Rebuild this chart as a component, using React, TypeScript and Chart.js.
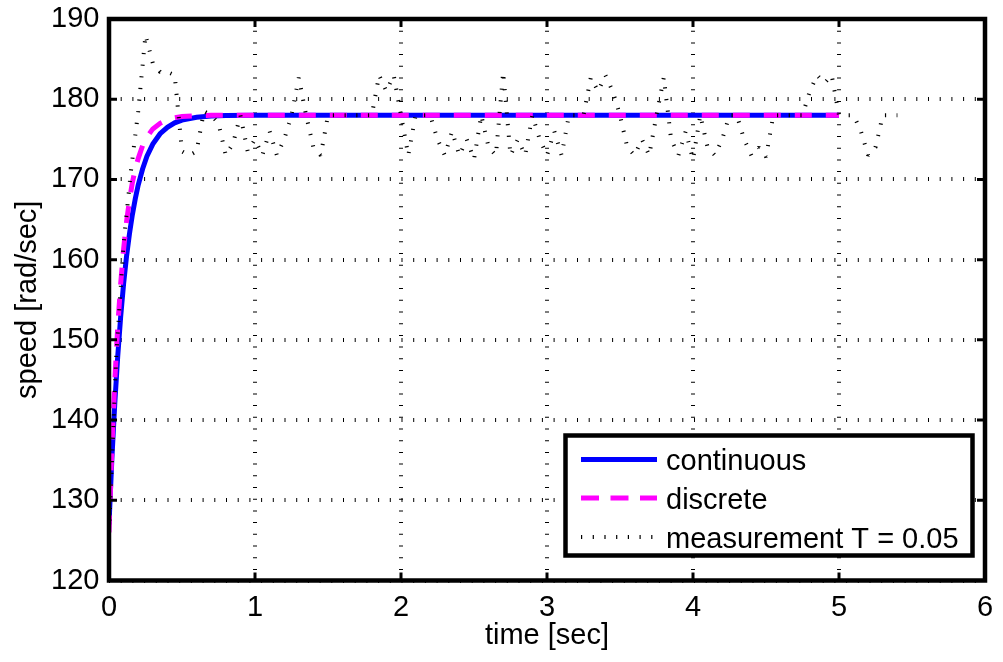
import { useEffect, useRef } from "react";
import { Chart, registerables } from "chart.js";

Chart.register(...registerables);

// Axis ticks
const timeTicks = [0, 1, 2, 3, 4, 5, 6];
const speedTicks = [120, 130, 140, 150, 160, 170, 180, 190];

// Continuous-time step response [sec], [rad/sec]
const continuousTime = [0, 0.02, 0.04, 0.06, 0.08, 0.1, 0.12, 0.14, 0.16, 0.18, 0.2, 0.23, 0.26, 0.3, 0.35, 0.4, 0.45, 0.5, 0.6, 0.7, 0.8, 1.0, 2.0, 3.0, 4.0, 5.0];
const continuousSpeed = [127, 135.3, 142.2, 148, 152.9, 157, 160.4, 163.2, 165.6, 167.6, 169.3, 171.3, 172.9, 174.4, 175.7, 176.5, 177.05, 177.4, 177.75, 177.9, 177.96, 178, 178, 178, 178, 178];

// Discrete-controller response
const discreteTime = [0, 0.02, 0.04, 0.06, 0.08, 0.1, 0.12, 0.14, 0.16, 0.18, 0.2, 0.23, 0.26, 0.3, 0.35, 0.4, 0.45, 0.5, 0.6, 0.7, 0.8, 1.0, 2.0, 3.0, 4.0, 5.0];
const discreteSpeed = [126, 136.6, 145, 151.7, 157, 161.3, 164.7, 167.4, 169.6, 171.3, 172.6, 174.2, 175.3, 176.3, 177, 177.45, 177.7, 177.85, 177.95, 178, 178, 178, 178, 178, 178, 178];

// Noisy speed measurement, sample period T = 0.05
const measurementTime = [
  0, 0.05, 0.1, 0.15, 0.2, 0.25, 0.3, 0.35, 0.4, 0.45,
  0.5, 0.55, 0.6, 0.65, 0.7, 0.75, 0.8, 0.85, 0.9, 0.95,
  1.0, 1.05, 1.1, 1.15, 1.2, 1.25, 1.3, 1.35, 1.4, 1.45,
  1.5, 1.55, 1.6, 1.65, 1.7, 1.75, 1.8, 1.85, 1.9, 1.95,
  2.0, 2.05, 2.1, 2.15, 2.2, 2.25, 2.3, 2.35, 2.4, 2.45,
  2.5, 2.55, 2.6, 2.65, 2.7, 2.75, 2.8, 2.85, 2.9, 2.95,
  3.0, 3.05, 3.1, 3.15, 3.2, 3.25, 3.3, 3.35, 3.4, 3.45,
  3.5, 3.55, 3.6, 3.65, 3.7, 3.75, 3.8, 3.85, 3.9, 3.95,
  4.0, 4.05, 4.1, 4.15, 4.2, 4.25, 4.3, 4.35, 4.4, 4.45,
  4.5, 4.55, 4.6, 4.65, 4.7, 4.75, 4.8, 4.85, 4.9, 4.95,
  5.0, 5.05, 5.1, 5.15, 5.2, 5.25, 5.3, 5.35, 5.4,
];
const measurementSpeed = [
  126, 148, 162, 171, 178.5, 188, 184.5, 183.4, 183.4, 183,
  173.5, 173, 173.5, 178.5, 178, 177, 173, 174.5, 178, 173.5,
  175, 173, 176, 173, 175, 178, 182.7, 178, 174, 173,
  178, 178, 178, 178, 178, 178, 178, 183, 181, 183,
  178, 173, 178, 178, 178, 175, 173, 176, 173, 175,
  172.5, 178, 174, 173, 183.4, 173, 175, 173, 178, 175,
  173, 176, 173, 178, 178, 178, 182.7, 181, 183, 181,
  178, 174, 173, 175, 173, 178, 182.7, 175, 173, 176,
  172.5, 178, 174, 173, 175, 178, 178, 175, 173, 174,
  172.8, 178, 178, 178, 178, 178, 181, 183, 182, 183,
  178, 178, 178, 176, 173, 174, 178, 178, 178,
];

const seriesLabels = ["continuous", "discrete", "measurement T = 0.05"];

const FONT = "'Liberation Sans', Arial, Helvetica, sans-serif";
const FONT_SIZE = 29;

const toPoints = (xs: number[], ys: number[]) => xs.map((x, i) => ({ x, y: ys[i] }));

// Thick box around the axes, inward tick marks on all four sides, and a boxed legend
const framePlugin = {
  id: "frameAndLegend",
  afterDraw(chart: any) {
    const { ctx, chartArea, scales } = chart;
    const { left, right, top, bottom } = chartArea;
    ctx.save();
    ctx.strokeStyle = "#000";
    ctx.lineCap = "butt";

    // inward ticks
    ctx.lineWidth = 3;
    const tickLen = 8;
    ctx.beginPath();
    timeTicks.forEach((t) => {
      const px = scales.x.getPixelForValue(t);
      ctx.moveTo(px, bottom);
      ctx.lineTo(px, bottom - tickLen);
      ctx.moveTo(px, top);
      ctx.lineTo(px, top + tickLen);
    });
    speedTicks.forEach((v) => {
      const py = scales.y.getPixelForValue(v);
      ctx.moveTo(left, py);
      ctx.lineTo(left + tickLen, py);
      ctx.moveTo(right, py);
      ctx.lineTo(right - tickLen, py);
    });
    ctx.stroke();

    // axes box
    ctx.lineWidth = 4.5;
    ctx.lineJoin = "miter";
    ctx.strokeRect(left, top, right - left, bottom - top);

    // legend
    const boxW = 407;
    const boxH = 120;
    const boxX = right - 419.5;
    const boxY = bottom - 145;
    ctx.fillStyle = "#fff";
    ctx.fillRect(boxX, boxY, boxW, boxH);
    ctx.lineWidth = 4.5;
    ctx.strokeRect(boxX, boxY, boxW, boxH);

    const rowY = [boxY + 24, boxY + 62.5, boxY + 101.5];
    chart.data.datasets.forEach((ds: any, i: number) => {
      const y = rowY[i];
      ctx.save();
      ctx.strokeStyle = ds.borderColor;
      ctx.lineWidth = ds.borderWidth;
      ctx.setLineDash(i === 1 ? [18, 11.5] : ds.borderDash || []);
      ctx.lineDashOffset = 0;
      ctx.beginPath();
      ctx.moveTo(boxX + 15.5, y);
      ctx.lineTo(boxX + 91.5, y);
      ctx.stroke();
      ctx.restore();
      ctx.fillStyle = "#000";
      ctx.font = `${FONT_SIZE}px ${FONT}`;
      ctx.textAlign = "left";
      ctx.textBaseline = "alphabetic";
      ctx.fillText(ds.label, boxX + 100.5, y + 10.5);
    });
    ctx.restore();
  },
};

export default function App() {
  const canvasRef = useRef<HTMLCanvasElement>(null);

  useEffect(() => {
    document.body.style.margin = "0";
    const canvas = canvasRef.current;
    if (!canvas) return;

    const chart = new Chart(canvas, {
      type: "line",
      data: {
        datasets: [
          {
            label: seriesLabels[0],
            data: toPoints(continuousTime, continuousSpeed),
            borderColor: "#0000ff",
            borderWidth: 5,
            pointRadius: 0,
            tension: 0,
            order: 3,
          },
          {
            label: seriesLabels[1],
            data: toPoints(discreteTime, discreteSpeed),
            borderColor: "#ff00ff",
            borderWidth: 5,
            borderDash: [17, 14],
            borderCapStyle: "butt",
            pointRadius: 0,
            tension: 0,
            order: 2,
          },
          {
            label: seriesLabels[2],
            data: toPoints(measurementTime, measurementSpeed),
            borderColor: "#000000",
            borderWidth: 4,
            borderDash: [1.2, 10.5],
            borderCapStyle: "butt",
            borderJoinStyle: "bevel",
            pointRadius: 0,
            tension: 0,
            order: 1,
          },
        ],
      },
      options: {
        responsive: false,
        animation: false,
        devicePixelRatio: 1,
        layout: { padding: { left: 0, right: 18, top: 19, bottom: 0 } },
        plugins: {
          legend: { display: false },
          tooltip: { enabled: false },
        },
        scales: {
          x: {
            type: "linear",
            min: 0,
            max: 6,
            afterBuildTicks: (scale: any) => {
              scale.ticks = timeTicks.map((v) => ({ value: v }));
            },
            afterFit: (scale: any) => {
              scale.height = 81.5;
              scale.paddingLeft = 0;
              scale.paddingRight = 0;
            },
            ticks: {
              color: "#000",
              font: { family: FONT, size: FONT_SIZE },
              padding: 10,
              maxRotation: 0,
              callback: (v: any) => String(v),
            },
            grid: { color: "#000", lineWidth: 4, drawTicks: false },
            border: { display: false, dash: [1, 10.7] },
            title: {
              display: true,
              text: "time [sec]",
              color: "#000",
              font: { family: FONT, size: FONT_SIZE },
              padding: { top: 0, bottom: 8.6 },
            },
          },
          y: {
            type: "linear",
            min: 120,
            max: 190,
            afterBuildTicks: (scale: any) => {
              scale.ticks = speedTicks.map((v) => ({ value: v }));
            },
            afterFit: (scale: any) => {
              scale.width = 109;
              scale.paddingTop = 0;
              scale.paddingBottom = 0;
            },
            ticks: {
              color: "#000",
              font: { family: FONT, size: FONT_SIZE },
              padding: 9.5,
              callback: (v: any) => String(v),
            },
            grid: { color: "#000", lineWidth: 4, drawTicks: false },
            border: { display: false, dash: [1, 10.7] },
            title: {
              display: true,
              text: "speed [rad/sec]",
              color: "#000",
              font: { family: FONT, size: FONT_SIZE },
              padding: { top: 10.6, bottom: 0 },
            },
          },
        },
      },
      plugins: [framePlugin],
    } as any);

    return () => chart.destroy();
  }, []);

  return (
    <div style={{ width: 1003, height: 662, background: "#fff" }}>
      <canvas ref={canvasRef} width={1003} height={662} style={{ display: "block" }} />
    </div>
  );
}
